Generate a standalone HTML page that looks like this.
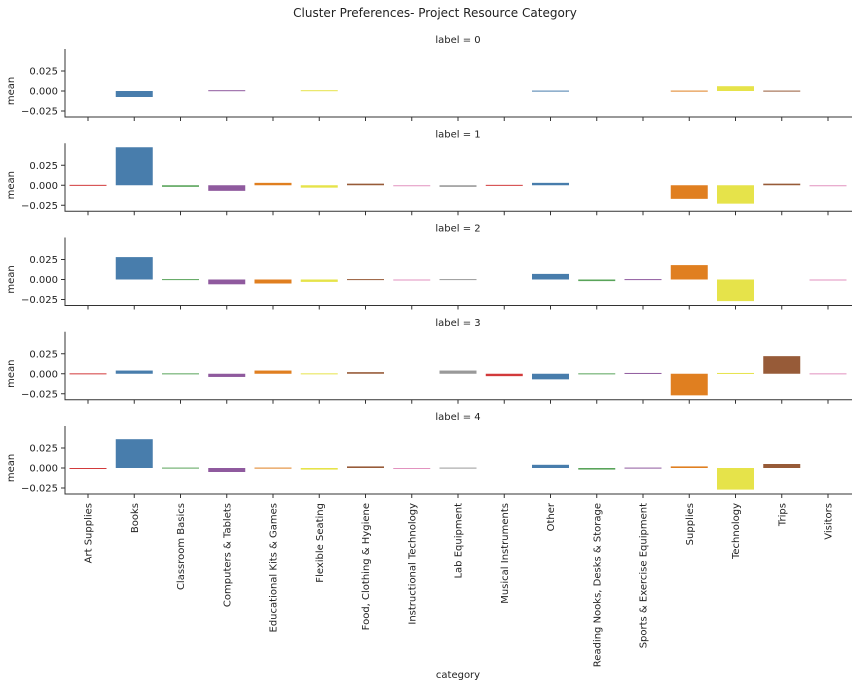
<!DOCTYPE html>
<html><head><meta charset="utf-8"><style>
body{margin:0;background:#fff}
svg{display:block;font-family:"DejaVu Sans","Liberation Sans",sans-serif}
</style></head><body>
<svg id="chart" width="863" height="686" viewBox="0 0 863 686" xmlns="http://www.w3.org/2000/svg">
<text x="435" y="17" text-anchor="middle" font-size="12" fill="#222">Cluster Preferences- Project Resource Category</text>
<text x="458" y="678" text-anchor="middle" font-size="10" fill="#222">category</text>
</svg>
<script>
const categories = ["Art Supplies","Books","Classroom Basics","Computers & Tablets","Educational Kits & Games","Flexible Seating","Food, Clothing & Hygiene","Instructional Technology","Lab Equipment","Musical Instruments","Other","Reading Nooks, Desks & Storage","Sports & Exercise Equipment","Supplies","Technology","Trips","Visitors"];
const labels = ["0","1","2","3","4"];
const label0 = [null,-0.0075,null,0.001,null,0.001,null,null,null,null,0.0005,null,null,0.0005,0.006,0.0005,null];
const label1 = [0.0005,0.0475,-0.002,-0.007,0.003,-0.003,0.002,-0.001,-0.002,0.0005,0.003,null,null,-0.017,-0.023,0.002,-0.001];
const label2 = [null,0.028,0.0005,-0.006,-0.005,-0.003,0.0005,-0.001,0.0005,null,0.007,-0.002,0.0005,0.018,-0.027,null,-0.001];
const label3 = [0.0005,0.004,0.0005,-0.004,0.004,0.0005,0.002,null,0.004,-0.003,-0.007,0.0005,0.001,-0.027,0.001,0.022,0.0005];
const label4 = [-0.001,0.036,0.0005,-0.005,0.0005,-0.002,0.002,-0.001,0.0005,null,0.004,-0.002,0.0005,0.002,-0.027,0.005,null];
const yTicks = [0.025,0,-0.025];
const yTickLabels = ["0.025","0.000","\u22120.025"];
const series = [label0,label1,label2,label3,label4];
const palette = ["#d23a3b","#487dac","#59a45a","#8f5a9e","#e07f20","#e6e34a","#975b38","#e292bf","#999999"];

const svg = document.getElementById('chart');
const NS = "http://www.w3.org/2000/svg";
const xL = 65, xR = 852, x0 = 88, step = 46.25, bw = 37;
const pxPerUnit = 800;
function xPos(i){return x0 + i*step;}
function mk(tag, attrs){const e=document.createElementNS(NS,tag);for(const k in attrs)e.setAttribute(k,attrs[k]);svg.appendChild(e);return e;}

series.forEach((vals, p) => {
  const zero = 91 + 94.25*p;
  const y = v => zero - v*pxPerUnit;
  const top = zero - 42, bottom = zero + 26;
  const t = mk('text',{x:458,y:top-6,'text-anchor':'middle','font-size':10,fill:'#222'});
  t.textContent = 'label = ' + labels[p];
  
  
  vals.forEach((v, i) => {
    if (v === null) return;
    const r = mk('rect',{x:xPos(i)-bw/2, y:Math.min(y(v),zero), width:bw, height:Math.max(Math.abs(v)*pxPerUnit,1), fill:palette[i%9]});
    
    
  });
  const ax = mk('path',{d:`M${xL} ${top}V${bottom}H${xR}`,stroke:'#333',fill:'none','stroke-width':1});
  
  
  yTicks.forEach((tv, k) => {
    mk('line',{x1:xL-4,x2:xL,y1:y(tv),y2:y(tv),stroke:'#333'});
    const tl = mk('text',{x:xL-7,y:y(tv)+3.5,'text-anchor':'end','font-size':10,fill:'#222'});
    tl.textContent = yTickLabels[k];
    
    
  });
  categories.forEach((c, i) => mk('line',{x1:xPos(i),x2:xPos(i),y1:bottom,y2:bottom+4,stroke:'#333'}));
  const yt = mk('text',{x:14,y:zero,'text-anchor':'middle','font-size':10,fill:'#222',transform:`rotate(-90 14 ${zero})`});
  yt.textContent = 'mean';
  
  
});
categories.forEach((c, i) => {
  const x = xPos(i)+3.5, yy = 503;
  const t = mk('text',{x:x,y:yy,'text-anchor':'end','font-size':10,fill:'#222',transform:`rotate(-90 ${x} ${yy})`});
  t.textContent = c;
  
  
});
</script>
</body></html>
